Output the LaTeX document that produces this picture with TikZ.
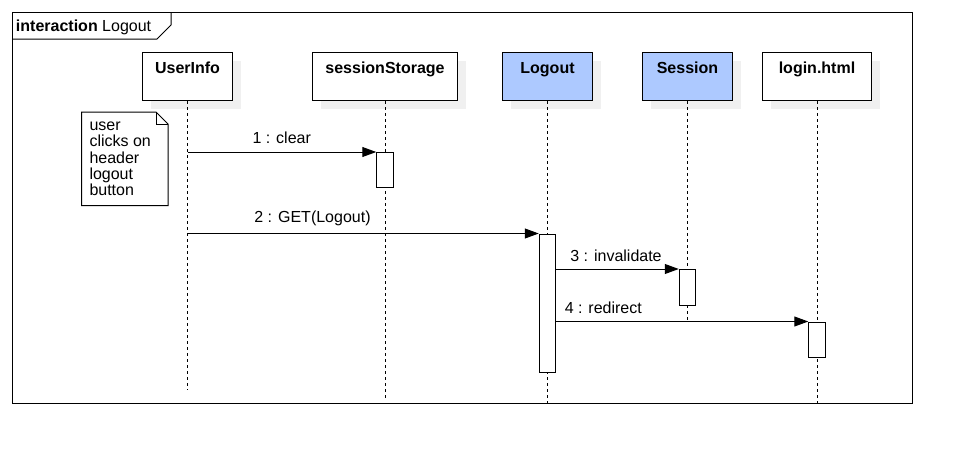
\documentclass[tikz,border=0pt]{standalone}
\usepackage{fontspec}
\setmainfont{Liberation Sans}
\usetikzlibrary{arrows.meta,shadows}
\definecolor{lblue}{RGB}{173,201,255}
\definecolor{shadowgray}{RGB}{240,240,240}
\begin{document}
\begin{tikzpicture}[x=1pt,y=-1pt,line width=1pt,
  font=\fontsize{16}{16}\selectfont,
  head/.style={draw, fill=white, minimum height=48pt, inner sep=0pt,
    drop shadow={shadow xshift=8pt, shadow yshift=-8pt, fill=shadowgray, opacity=1}},
  headtxt/.style={font=\fontsize{16}{16}\selectfont\bfseries, inner sep=0pt, anchor=base},
  life/.style={dash pattern=on 3pt off 3pt},
  act/.style={draw, fill=white, minimum width=16.5pt, inner sep=0pt},
  msg/.style={-{Triangle[length=14pt,width=10pt]}},
  lbl/.style={inner sep=0pt, anchor=base}]
\useasboundingbox (0,0) rectangle (962,455);
% frame
\draw (12,12.5) rectangle (912,403);
\draw (12,39) -- (157,39) -- (171,25) -- (171,12.5);
\node[anchor=base west, inner sep=0pt] (frametitle) at (15.5,31.5) {\textbf{interaction} Logout};
% heads
\node[head, minimum width=90pt] (ui) at (187.5,76.5) {};
\node[head, minimum width=145pt] (ss) at (385,76.5) {};
\node[head, minimum width=90pt, fill=lblue] (lo) at (547.5,76.5) {};
\node[head, minimum width=90pt, fill=lblue] (se) at (687.5,76.5) {};
\node[head, minimum width=109pt] (lh) at (817,76.5) {};
\node[headtxt] (uit) at (187.5,73.2) {UserInfo};
\node[headtxt] (sst) at (385,73.2) {sessionStorage};
\node[headtxt] (lot) at (547.5,73.2) {Logout};
\node[headtxt] (set) at (687.5,73.2) {Session};
\node[headtxt] (lht) at (817,73.2) {login.html};
% lifeline ends
\coordinate (uie) at (187.5,390);
\coordinate (sse) at (385,400);
\coordinate (loe) at (547.5,405);
\coordinate (see) at (687.5,321);
\coordinate (lhe) at (817,405);
\draw[life] (ui.south) -- (uie);
\draw[life] (ss.south) -- (sse);
\draw[life] (lo.south) -- (loe);
\draw[life] (se.south) -- (see);
\draw[life] (lh.south) -- (lhe);
% activations
\node[act, minimum height=35pt] (a1) at (385,170) {};
\node[act, minimum height=138pt] (a2) at (547.5,303) {};
\node[act, minimum height=35.5pt] (a3) at (687.5,287.25) {};
\node[act, minimum height=35pt] (a4) at (817,339.5) {};
% note
\node[minimum width=85.5pt, minimum height=92.5pt, inner sep=0pt] (note) at (124.75,158.75) {};
\draw[fill=white] (note.north west) -- ([xshift=-12pt]note.north east) -- ([yshift=-12pt]note.north east) -- (note.south east) -- (note.south west) -- cycle;
\draw ([xshift=-12pt]note.north east) -- ([xshift=-12pt,yshift=-12pt]note.north east) -- ([yshift=-12pt]note.north east);
\node[anchor=north west, align=left, inner sep=0pt, font=\fontsize{16}{16.2}\selectfont] (notetxt) at (89,121.5) {user\\clicks on\\header\\logout\\button};
% messages
\draw[msg] (ui.south |- a1.north) -- (a1.north west);
\draw[msg] (ui.south |- a2.north) -- (a2.north west);
\draw[msg] (a2.east |- a3.north) -- (a3.north west);
\draw[msg] (a2.east |- a4.north) -- (a4.north west);
\node[lbl] (l1) at (281.7,143.5) {1 : clear};
\node[lbl] (l2) at (312.5,222.5) {2 : GET(Logout)};
\node[lbl] (l3) at (616,261.5) {3 : invalidate};
\node[lbl] (l4) at (603.3,313) {4 : redirect};
\end{tikzpicture}
\end{document}
